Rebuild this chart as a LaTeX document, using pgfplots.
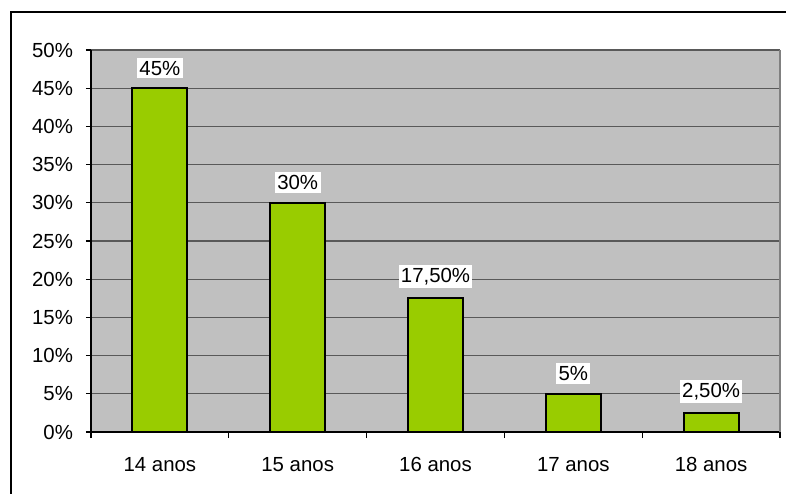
\documentclass[border=0pt]{standalone}
\usepackage{pgfplots}
\pgfplotsset{compat=1.18}
\usepackage{fontspec}
\setmainfont{Liberation Sans}
\definecolor{bargreen}{HTML}{99CC00}
\definecolor{plotgray}{HTML}{C0C0C0}
\begin{document}
\begin{tikzpicture}[font=\fontsize{10.2}{12}\selectfont]
\useasboundingbox (-45.5pt,-30.5pt) rectangle (347.5pt,216pt);
\draw[line width=0.6pt] (-40pt,-31pt) -- (-40pt,210pt) -- (348pt,210pt);
\begin{axis}[
  at={(0,0)}, anchor=south west,
  scale only axis, width=344.5pt, height=191pt,
  xmin=-0.5, xmax=4.5, ymin=0, ymax=50,
  axis background/.style={fill=plotgray},
  axis x line*=bottom, axis y line*=left,
  axis line style={line width=0.6pt, black, -},
  xtick={0,1,2,3,4},
  xticklabels={14 anos,15 anos,16 anos,17 anos,18 anos},
  minor xtick={-0.5,0.5,1.5,2.5,3.5,4.5},
  major x tick style={draw=none},
  minor x tick style={line width=0.6pt, black},
  minor tick length=3pt,
  ytick={0,5,...,50},
  yticklabel={\pgfmathprintnumber{\tick}\%},
  y tick style={line width=0.6pt, black},
  major tick length=2.5pt,
  tick align=outside,
  ymajorgrids,
  grid style={line width=0.6pt, black!65},
  /pgf/number format/assume math mode=true,
  xticklabel style={yshift=-6.5pt},
  yticklabel style={xshift=-3pt},
  ybar, bar width=0.4,
  nodes near coords,
  point meta=explicit symbolic,
  nodes near coords style={anchor=south, yshift=4.5pt, fill=white, inner xsep=1.2pt, inner ysep=1.5pt, text=black},
  after end axis/.code={\draw[line width=1pt, gray] (rel axis cs:1,0) -- (rel axis cs:1,1);},
]
\addplot[fill=bargreen, draw=black, line width=1pt] table[meta=label] {
x y label
0 45 45\%
1 30 30\%
2 17.5 17,50\%
3 5 5\%
4 2.5 2,50\%
};
\end{axis}
\end{tikzpicture}
\end{document}
